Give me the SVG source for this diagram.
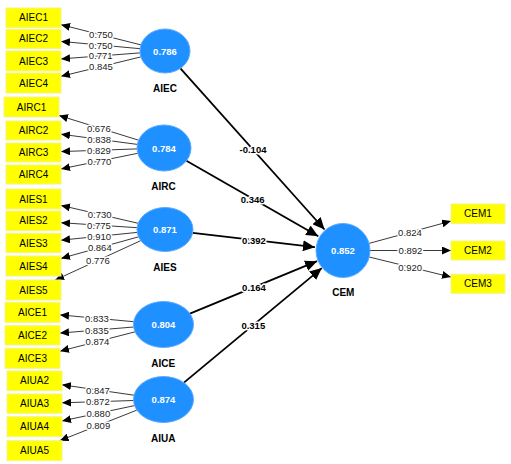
<svg xmlns="http://www.w3.org/2000/svg" width="511" height="464" viewBox="0 0 511 464">
<defs>
<style>
.box{fill:#ffff00;stroke:#f4f48a;stroke-width:1}
.btx{font-family:"Liberation Sans",Arial,sans-serif;font-size:10px;fill:#000;text-anchor:middle}
.lv{fill:#1e90ff;stroke:#5aaaff;stroke-width:1}
.val{font-family:"Liberation Sans",Arial,sans-serif;font-size:9.5px;font-weight:bold;fill:#fff;text-anchor:middle}
.name{font-family:"Liberation Sans",Arial,sans-serif;font-size:10px;font-weight:bold;fill:#000;text-anchor:middle}
.ld{stroke:#222;stroke-width:0.9;fill:none}
.pth{stroke:#000;stroke-width:1.8;fill:none}
.ll{font-family:"Liberation Sans",Arial,sans-serif;font-size:9.5px;fill:#222;text-anchor:middle;stroke:#fff;stroke-width:3;paint-order:stroke;stroke-linejoin:round}
.pl{font-family:"Liberation Sans",Arial,sans-serif;font-size:9.5px;font-weight:bold;fill:#000;text-anchor:middle;stroke:#fff;stroke-width:3;paint-order:stroke;stroke-linejoin:round}
</style>
<marker id="ah" markerUnits="userSpaceOnUse" markerWidth="10" markerHeight="8" refX="9" refY="4" orient="auto">
<path d="M0,0 L9,4 L0,8 z" fill="#000"/>
</marker>
<marker id="ahb" markerUnits="userSpaceOnUse" markerWidth="13" markerHeight="11" refX="12" refY="5.5" orient="auto">
<path d="M0,0 L12,5.5 L0,11 z" fill="#000"/>
</marker>
</defs>
<rect width="511" height="464" fill="#fff"/>

<g id="connectors">
<!-- AIEC loadings -->
<line class="ld" x1="141" y1="44.9" x2="61" y2="24.7" marker-end="url(#ah)"/>
<line class="ld" x1="140.1" y1="48.7" x2="61" y2="41.4" marker-end="url(#ah)"/>
<line class="ld" x1="140.1" y1="52.9" x2="61" y2="58.9" marker-end="url(#ah)"/>
<line class="ld" x1="140.9" y1="56.9" x2="61" y2="76.3" marker-end="url(#ah)"/>
<!-- AIRC loadings -->
<line class="ld" x1="138.6" y1="140.2" x2="59" y2="115.5" marker-end="url(#ah)"/>
<line class="ld" x1="137.3" y1="144.4" x2="61" y2="134.2" marker-end="url(#ah)"/>
<line class="ld" x1="137" y1="148.9" x2="61" y2="151.6" marker-end="url(#ah)"/>
<line class="ld" x1="137.7" y1="153.3" x2="61" y2="168.9" marker-end="url(#ah)"/>
<!-- AIES loadings -->
<line class="ld" x1="138.2" y1="223.3" x2="61" y2="205.4" marker-end="url(#ah)"/>
<line class="ld" x1="137.1" y1="227.7" x2="61" y2="222.7" marker-end="url(#ah)"/>
<line class="ld" x1="137.2" y1="232.4" x2="61" y2="240.2" marker-end="url(#ah)"/>
<line class="ld" x1="138.6" y1="236.8" x2="61" y2="258.4" marker-end="url(#ah)"/>
<line class="ld" x1="140.8" y1="240.6" x2="55.2" y2="280" marker-end="url(#ah)"/>
<!-- AICE loadings -->
<line class="ld" x1="133.7" y1="321.7" x2="60" y2="314.9" marker-end="url(#ah)"/>
<line class="ld" x1="133.7" y1="327" x2="60" y2="333.1" marker-end="url(#ah)"/>
<line class="ld" x1="135.1" y1="331.8" x2="60" y2="351.2" marker-end="url(#ah)"/>
<!-- AIUA loadings -->
<line class="ld" x1="134" y1="395.2" x2="62" y2="384.8" marker-end="url(#ah)"/>
<line class="ld" x1="133.5" y1="400.5" x2="62" y2="402.8" marker-end="url(#ah)"/>
<line class="ld" x1="134.6" y1="405.6" x2="62" y2="420.9" marker-end="url(#ah)"/>
<line class="ld" x1="136.9" y1="410.1" x2="59.7" y2="440.7" marker-end="url(#ah)"/>
<!-- CEM loadings -->
<line class="ld" x1="369" y1="243.4" x2="451" y2="221.1" marker-end="url(#ah)"/>
<line class="ld" x1="370" y1="250.5" x2="451" y2="250.5" marker-end="url(#ah)"/>
<line class="ld" x1="369.2" y1="257" x2="451" y2="277.1" marker-end="url(#ah)"/>
<!-- structural paths -->
<line class="pth" x1="180.4" y1="68.3" x2="324.5" y2="229.5" marker-end="url(#ahb)"/>
<line class="pth" x1="186.4" y1="160.8" x2="318.3" y2="236.3" marker-end="url(#ahb)"/>
<line class="pth" x1="192.7" y1="232.8" x2="314.9" y2="247.2" marker-end="url(#ahb)"/>
<line class="pth" x1="189.9" y1="313.6" x2="317.1" y2="261.2" marker-end="url(#ahb)"/>
<line class="pth" x1="183.9" y1="382.6" x2="321.8" y2="268.1" marker-end="url(#ahb)"/>
<!-- loading labels -->
<text class="ll" x="101" y="38.1">0.750</text>
<text class="ll" x="100.6" y="48.6">0.750</text>
<text class="ll" x="100.6" y="59.4">0.771</text>
<text class="ll" x="101" y="70.4">0.845</text>
<text class="ll" x="98.8" y="131.6">0.676</text>
<text class="ll" x="99.2" y="142.8">0.838</text>
<text class="ll" x="99" y="154">0.829</text>
<text class="ll" x="99.4" y="165">0.770</text>
<text class="ll" x="99.6" y="217.9">0.730</text>
<text class="ll" x="99" y="228.9">0.775</text>
<text class="ll" x="99.1" y="240">0.910</text>
<text class="ll" x="99.8" y="251.3">0.864</text>
<text class="ll" x="98" y="264">0.776</text>
<text class="ll" x="96.9" y="321.8">0.833</text>
<text class="ll" x="96.8" y="333.7">0.835</text>
<text class="ll" x="97.5" y="345.3">0.874</text>
<text class="ll" x="98" y="393.8">0.847</text>
<text class="ll" x="97.8" y="405.1">0.872</text>
<text class="ll" x="98.3" y="416.8">0.880</text>
<text class="ll" x="98.3" y="429">0.809</text>
<text class="ll" x="410" y="235.8">0.824</text>
<text class="ll" x="410.5" y="254">0.892</text>
<text class="ll" x="410.1" y="271">0.920</text>
<!-- path labels -->
<text class="pl" x="253" y="152.6">-0.104</text>
<text class="pl" x="252.7" y="203.3">0.346</text>
<text class="pl" x="254" y="244">0.392</text>
<text class="pl" x="254" y="291">0.164</text>
<text class="pl" x="253.3" y="329">0.315</text>
</g>

<g id="AIEC">
<ellipse class="lv" cx="165" cy="51" rx="25" ry="22"/>
<text class="val" x="165" y="54.5">0.786</text>
<text class="name" x="165" y="92.2">AIEC</text>
</g>
<g id="AIRC">
<ellipse class="lv" cx="164" cy="148" rx="27" ry="23"/>
<text class="val" x="164" y="151.5">0.784</text>
<text class="name" x="163.5" y="189.5">AIRC</text>
</g>
<g id="AIES">
<ellipse class="lv" cx="165" cy="229.5" rx="28" ry="22"/>
<text class="val" x="165" y="233">0.871</text>
<text class="name" x="165" y="271.2">AIES</text>
</g>
<g id="AICE">
<ellipse class="lv" cx="163.5" cy="324.5" rx="30" ry="23"/>
<text class="val" x="163.5" y="328">0.804</text>
<text class="name" x="163.3" y="366.8">AICE</text>
</g>
<g id="AIUA">
<ellipse class="lv" cx="163.5" cy="399.5" rx="30" ry="23"/>
<text class="val" x="163.5" y="403">0.874</text>
<text class="name" x="163.3" y="441.8">AIUA</text>
</g>
<g id="CEM">
<circle class="lv" cx="343" cy="250.5" r="27"/>
<text class="val" x="343" y="254">0.852</text>
<text class="name" x="343.3" y="295.8">CEM</text>
</g>

<g id="AIEC1"><rect class="box" x="6" y="8" width="55" height="19.5"/><text class="btx" x="33.5" y="21.2">AIEC1</text></g>
<g id="AIEC2"><rect class="box" x="6" y="29.3" width="55" height="19.3"/><text class="btx" x="33.5" y="42.3">AIEC2</text></g>
<g id="AIEC3"><rect class="box" x="6" y="51" width="55" height="20"/><text class="btx" x="33.5" y="64.5">AIEC3</text></g>
<g id="AIEC4"><rect class="box" x="6" y="73" width="55" height="20"/><text class="btx" x="33.5" y="86.5">AIEC4</text></g>
<g id="AIRC1"><rect class="box" x="4" y="97" width="55" height="20"/><text class="btx" x="31.5" y="110.5">AIRC1</text></g>
<g id="AIRC2"><rect class="box" x="6" y="121" width="55" height="19"/><text class="btx" x="33.5" y="134">AIRC2</text></g>
<g id="AIRC3"><rect class="box" x="6" y="143" width="55" height="19"/><text class="btx" x="33.5" y="156">AIRC3</text></g>
<g id="AIRC4"><rect class="box" x="6" y="165" width="55" height="19"/><text class="btx" x="33.5" y="178">AIRC4</text></g>
<g id="AIES1"><rect class="box" x="6" y="189" width="55" height="20"/><text class="btx" x="33.5" y="202.5">AIES1</text></g>
<g id="AIES2"><rect class="box" x="6" y="211" width="55" height="19.7"/><text class="btx" x="33.5" y="224.3">AIES2</text></g>
<g id="AIES3"><rect class="box" x="6" y="233.3" width="55" height="19.4"/><text class="btx" x="33.5" y="246.5">AIES3</text></g>
<g id="AIES4"><rect class="box" x="6" y="256" width="55" height="20"/><text class="btx" x="33.5" y="269.5">AIES4</text></g>
<g id="AIES5"><rect class="box" x="6" y="280" width="55" height="20"/><text class="btx" x="33.5" y="293.5">AIES5</text></g>
<g id="AICE1"><rect class="box" x="5" y="302.3" width="55" height="20"/><text class="btx" x="32.5" y="315.8">AICE1</text></g>
<g id="AICE2"><rect class="box" x="5" y="325.7" width="55" height="19.3"/><text class="btx" x="32.5" y="338.9">AICE2</text></g>
<g id="AICE3"><rect class="box" x="5" y="348.3" width="55" height="20"/><text class="btx" x="32.5" y="361.8">AICE3</text></g>
<g id="AIUA2"><rect class="box" x="7" y="371" width="55" height="19.7"/><text class="btx" x="34.5" y="384.3">AIUA2</text></g>
<g id="AIUA3"><rect class="box" x="7" y="394" width="55" height="19.3"/><text class="btx" x="34.5" y="407.1">AIUA3</text></g>
<g id="AIUA4"><rect class="box" x="7" y="416.7" width="55" height="20"/><text class="btx" x="34.5" y="430.2">AIUA4</text></g>
<g id="AIUA5"><rect class="box" x="7" y="440.7" width="55" height="20"/><text class="btx" x="34.5" y="454.2">AIUA5</text></g>
<g id="CEM1"><rect class="box" x="451" y="204" width="54" height="19.5"/><text class="btx" x="478" y="217.2">CEM1</text></g>
<g id="CEM2"><rect class="box" x="451" y="241" width="54" height="19"/><text class="btx" x="478" y="254">CEM2</text></g>
<g id="CEM3"><rect class="box" x="451" y="274.3" width="54" height="19"/><text class="btx" x="478" y="287.3">CEM3</text></g>
</svg>
